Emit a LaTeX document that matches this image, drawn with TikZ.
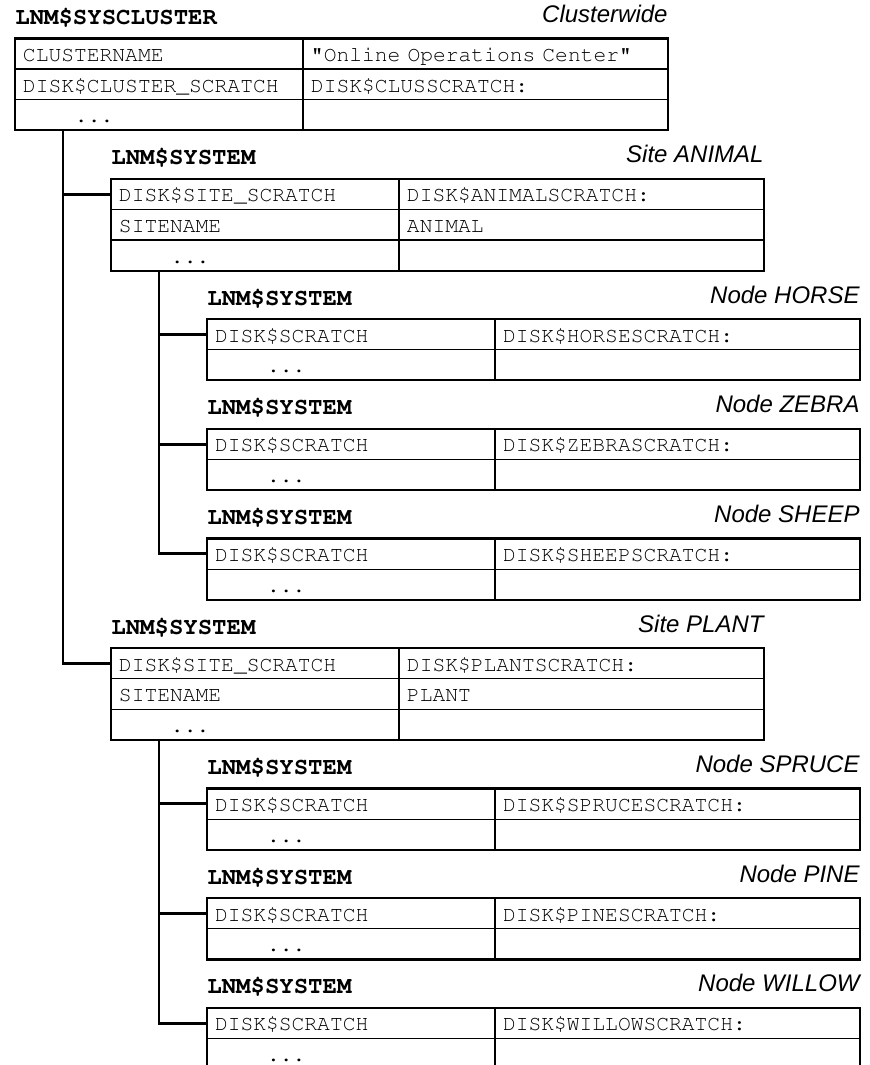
\documentclass[tikz,border=0pt]{standalone}
\usepackage[T1]{fontenc}
\usepackage{fontspec}
\newfontfamily\lnmsans{Liberation Sans}
\usetikzlibrary{matrix, positioning}

\newcommand{\lnmmono}{\fontencoding{T1}\fontfamily{pcr}\fontshape{n}}
\newcommand{\celltext}{\lnmmono\fontseries{m}\fontsize{10.65pt}{12pt}\selectfont}
\newcommand{\tabletitle}{\lnmmono\fontseries{b}\fontsize{12pt}{14pt}\selectfont}
\newcommand{\tablescope}{\lnmsans\itshape\fontsize{12pt}{14pt}\selectfont}

\tikzset{
  cell/.style={draw, line width=0.6pt, outer sep=0pt, inner xsep=4pt, inner ysep=0pt,
    minimum height=15.3pt, text height=9pt, text depth=1.3pt, align=left, font=\celltext},
  lnmtab/.style={matrix of nodes, nodes in empty cells, draw, line width=1.1pt,
    inner sep=-0.3pt, outer sep=0pt, anchor=north west, nodes={cell},
    row sep=-0.6pt, column sep=-0.6pt,
    column 1/.style={nodes={text width=136pt}},
    column 2/.style={nodes={text width=174.5pt}}},
  dotcell/.style={execute at begin node={\hspace*{26pt}}},
  tabtitle/.style={font=\tabletitle, inner sep=0pt, anchor=base west},
  tabscope/.style={font=\tablescope, inner sep=0pt, anchor=base east},
  link/.style={line width=1.4pt}
}

\begin{document}
\begin{tikzpicture}[x=0.5pt, y=-0.5pt]
\useasboundingbox (0,0) rectangle (869,1065);
\fill[white] (0,0) rectangle (869,1065);
\clip (0,0) rectangle (869,1065);

% clusterwide table
\matrix (cluster) [lnmtab] at (15,38.5) {
  CLUSTERNAME & "Online Operations Center" \\
  DISK\$CLUSTER\_SCRATCH & DISK\$CLUSSCRATCH: \\
  |[dotcell]| ... & \\
};
\node[tabtitle] (clustertitle) at ([yshift=7pt]cluster.north west) {LNM\$SYSCLUSTER};
\node[tabscope] (clusterscope) at ([yshift=8pt]cluster.north east) {Clusterwide};

% site ANIMAL
\matrix (animal) [lnmtab, below right=24.25pt and 48pt of cluster.south west] {
  DISK\$SITE\_SCRATCH & DISK\$ANIMALSCRATCH: \\
  SITENAME & ANIMAL \\
  |[dotcell]| ... & \\
};
\node[tabtitle] (animaltitle) at ([yshift=7pt]animal.north west) {LNM\$SYSTEM};
\node[tabscope] (animalscope) at ([yshift=8pt]animal.north east) {Site ANIMAL};

\matrix (horse) [lnmtab, below right=24.25pt and 48pt of animal.south west] {
  DISK\$SCRATCH & DISK\$HORSESCRATCH: \\
  |[dotcell]| ... & \\
};
\node[tabtitle] (horsetitle) at ([yshift=7pt]horse.north west) {LNM\$SYSTEM};
\node[tabscope] (horsescope) at ([yshift=8pt]horse.north east) {Node HORSE};

\matrix (zebra) [lnmtab, below right=24.25pt and 0pt of horse.south west] {
  DISK\$SCRATCH & DISK\$ZEBRASCRATCH: \\
  |[dotcell]| ... & \\
};
\node[tabtitle] (zebratitle) at ([yshift=7pt]zebra.north west) {LNM\$SYSTEM};
\node[tabscope] (zebrascope) at ([yshift=8pt]zebra.north east) {Node ZEBRA};

\matrix (sheep) [lnmtab, below right=24.25pt and 0pt of zebra.south west] {
  DISK\$SCRATCH & DISK\$SHEEPSCRATCH: \\
  |[dotcell]| ... & \\
};
\node[tabtitle] (sheeptitle) at ([yshift=7pt]sheep.north west) {LNM\$SYSTEM};
\node[tabscope] (sheepscope) at ([yshift=8pt]sheep.north east) {Node SHEEP};

% site PLANT
\matrix (plant) [lnmtab, below right=24.25pt and -48pt of sheep.south west] {
  DISK\$SITE\_SCRATCH & DISK\$PLANTSCRATCH: \\
  SITENAME & PLANT \\
  |[dotcell]| ... & \\
};
\node[tabtitle] (planttitle) at ([yshift=7pt]plant.north west) {LNM\$SYSTEM};
\node[tabscope] (plantscope) at ([yshift=8pt]plant.north east) {Site PLANT};

\matrix (spruce) [lnmtab, below right=24.25pt and 48pt of plant.south west] {
  DISK\$SCRATCH & DISK\$SPRUCESCRATCH: \\
  |[dotcell]| ... & \\
};
\node[tabtitle] (sprucetitle) at ([yshift=7pt]spruce.north west) {LNM\$SYSTEM};
\node[tabscope] (sprucescope) at ([yshift=8pt]spruce.north east) {Node SPRUCE};

\matrix (pine) [lnmtab, below right=24.25pt and 0pt of spruce.south west] {
  DISK\$SCRATCH & DISK\$PINESCRATCH: \\
  |[dotcell]| ... & \\
};
\node[tabtitle] (pinetitle) at ([yshift=7pt]pine.north west) {LNM\$SYSTEM};
\node[tabscope] (pinescope) at ([yshift=8pt]pine.north east) {Node PINE};

\matrix (willow) [lnmtab, below right=24.25pt and 0pt of pine.south west] {
  DISK\$SCRATCH & DISK\$WILLOWSCRATCH: \\
  |[dotcell]| ... & \\
};
\node[tabtitle] (willowtitle) at ([yshift=7pt]willow.north west) {LNM\$SYSTEM};
\node[tabscope] (willowscope) at ([yshift=8pt]willow.north east) {Node WILLOW};

% tree lines
\draw[link] ([xshift=24pt]cluster.south west) |- (animal-1-1.west);
\draw[link] ([xshift=24pt]cluster.south west) |- (plant-1-1.west);
\draw[link] ([xshift=24pt]animal.south west) |- (horse-1-1.west);
\draw[link] ([xshift=24pt]animal.south west) |- (zebra-1-1.west);
\draw[link] ([xshift=24pt]animal.south west) |- (sheep-1-1.west);
\draw[link] ([xshift=24pt]plant.south west) |- (spruce-1-1.west);
\draw[link] ([xshift=24pt]plant.south west) |- (pine-1-1.west);
\draw[link] ([xshift=24pt]plant.south west) |- (willow-1-1.west);

\end{tikzpicture}
\end{document}
